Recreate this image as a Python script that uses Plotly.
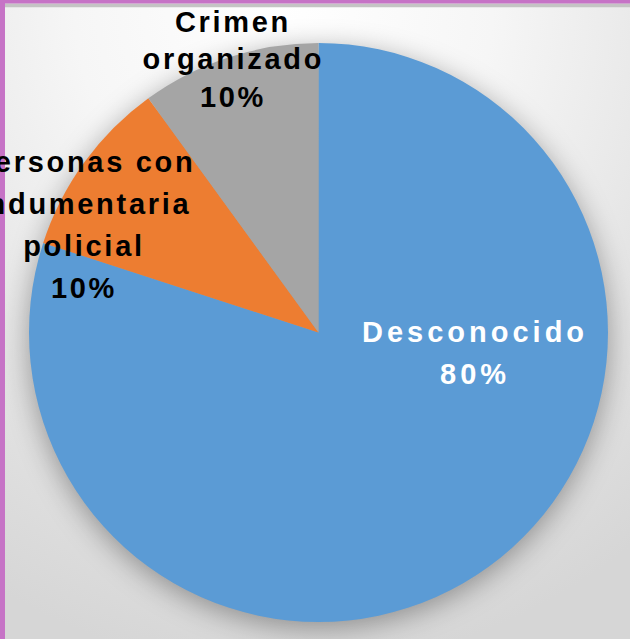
import plotly.graph_objects as go

# ---- data ----
labels = ["Desconocido", "Personas con indumentaria policial", "Crimen organizado"]
values = [80, 10, 10]
label_lines = [["Desconocido"], ["Personas con", "indumentaria", "policial"], ["Crimen", "organizado"]]
colors = ["#5B9BD5", "#ED7D31", "#A5A5A5"]
text_colors = ["#FFFFFF", "#000000", "#000000"]

# ---- layout constants (pixels) ----
W, H = 630, 639
CX, CY, R = 318.5, 332.5, 289.5
# label anchor: (center x, first baseline y, line pitch)
label_pos = [(475, 341.7, 42.6), (84, 171.7, 42.0), (233, 31.7, 37.8)]
FS = 29

fig = go.Figure()
fig.add_trace(go.Pie(
    labels=labels, values=values, sort=False, direction="clockwise", rotation=0,
    marker=dict(colors=colors, line=dict(width=0)),
    textinfo="none", hoverinfo="label+percent", showlegend=False,
    domain=dict(x=[(CX - R) / W, (CX + R) / W], y=[(H - (CY + R)) / H, (H - (CY - R)) / H]),
))

total = sum(values)
annotations = []
for lines, v, col, (lx, ly, pitch) in zip(label_lines, values, text_colors, label_pos):
    all_lines = lines + [f"{round(100 * v / total)}%"]
    for i, t in enumerate(all_lines):
        base = ly + i * pitch
        yc = base - 0.3465 * FS
        annotations.append(dict(
            text=f"<b>{t}</b>", x=lx / W, y=1 - yc / H, xref="paper", yref="paper",
            xanchor="center", yanchor="middle", showarrow=False,
            font=dict(family="Liberation Sans, Arial, sans-serif", size=FS, color=col),
        ))

shapes = [
    dict(type="rect", xref="paper", yref="paper", x0=5 / W, x1=1, y0=1 - 7.3 / H, y1=1 - 3.5 / H,
         fillcolor="#C4C4C4", line=dict(width=0), layer="above"),
    dict(type="rect", xref="paper", yref="paper", x0=0, x1=1, y0=1 - 3.5 / H, y1=1,
         fillcolor="#C673C6", line=dict(width=0), layer="above"),
    dict(type="rect", xref="paper", yref="paper", x0=0, x1=5 / W, y0=0, y1=1,
         fillcolor="#C673C6", line=dict(width=0), layer="above"),
]

fig.update_layout(
    width=W, height=H, margin=dict(l=0, r=0, t=0, b=0),
    paper_bgcolor="rgba(0,0,0,0)", plot_bgcolor="rgba(0,0,0,0)",
    annotations=annotations, shapes=shapes,
)

js = """
var st = document.createElement('style');
st.textContent = "html,body{margin:0;padding:0;} .annotation-text{letter-spacing:2.7px;} " +
  ".annotation-text[style*='255, 255, 255']{letter-spacing:4px;} " +
  ".pielayer{filter: drop-shadow(0px 6px 14px rgba(0,0,0,0.35));}";
document.head.appendChild(st);
var gd = document.getElementById('{plot_id}');
gd.style.background = "radial-gradient(ellipse 95% 105% at 45% 0%, #ffffff 0%, #f6f6f6 35%, #e4e4e4 70%, #d6d6d6 100%)";
"""
fig.write_html("out.html", post_script=js, config={"displayModeBar": False})
